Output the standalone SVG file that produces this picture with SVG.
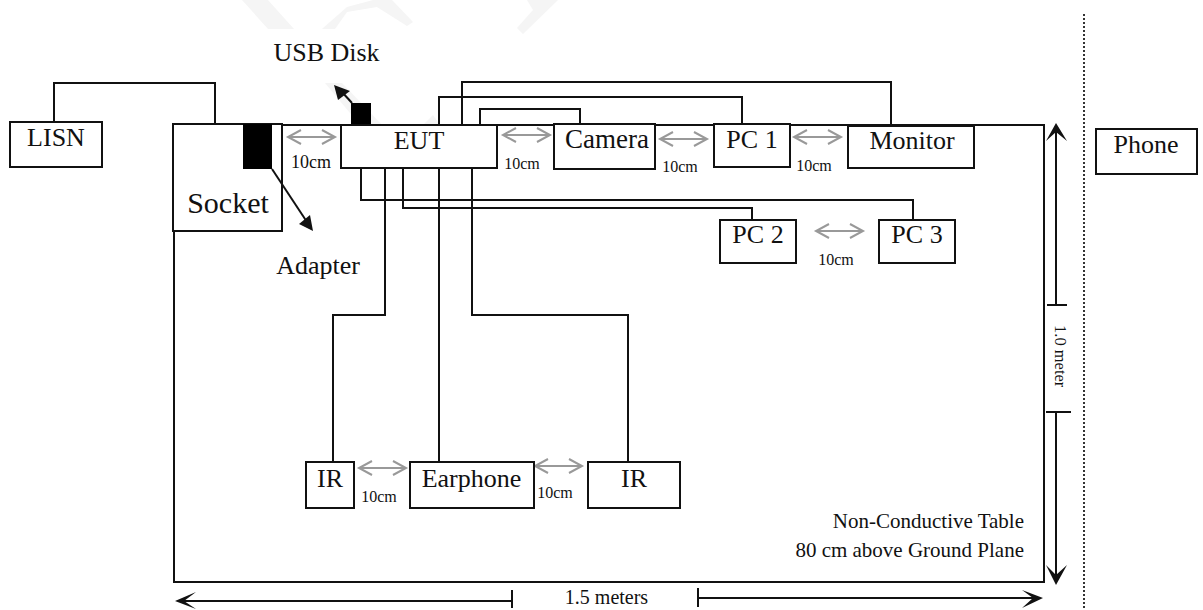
<svg xmlns="http://www.w3.org/2000/svg" width="1203" height="610" viewBox="0 0 1203 610">
<style>
.b{fill:#fff;stroke:#111;stroke-width:2}
.w{fill:none;stroke:#111;stroke-width:2}
.g{fill:none;stroke:#999;stroke-width:2}
.f{fill:#111}
.wm{fill:#f5f5f5}
text{font-family:"Liberation Serif","Times New Roman",serif;fill:#111}
.l{font-size:26px;text-anchor:middle}
.s{font-size:16px;text-anchor:middle}
</style>
<defs>
<path id="ga" class="g" d="M13 -7L0 0L13 7M0 0H47M34 -7L47 0L34 7"/>
</defs>
<rect width="1203" height="610" fill="#fff"/>
<g id="watermark">
<polygon class="wm" points="242,0 268,0 294,29 268,29"/>
<polygon class="wm" points="322,29 347,7 373,0 392,0 413,22 407,26 377,7 347,12 335,29"/>
<polygon class="wm" points="517,28 533,10 527,0 558,0 523,34"/>
<polygon class="wm" points="325,83 342,83 382,125 360,125"/>
<polygon class="wm" points="423,125 433,115 440,125"/>
</g>
<g id="table"><rect class="w" x="174" y="125" width="870" height="457"/></g>
<g id="divider"><line x1="1084" y1="14" x2="1084" y2="608" stroke="#333" stroke-width="2" stroke-dasharray="2 2"/></g>
<g id="connectors">
<path class="w" d="M54 122V83H215V124"/>
<path class="w" d="M462 125V82H891V125"/>
<path class="w" d="M439 125V97H742V124"/>
<path class="w" d="M480 125V109H580V125"/>
<path class="w" d="M361 168V200H913V221"/>
<path class="w" d="M403 168V208H752V221"/>
<path class="w" d="M385 166V315H333V462"/>
<path class="w" d="M439 166V462"/>
<path class="w" d="M472 166V315H628V462"/>
<use href="#ga" x="288" y="137"/>
<use href="#ga" x="503" y="135"/>
<use href="#ga" x="660" y="139"/>
<use href="#ga" x="794" y="137"/>
<use href="#ga" x="816" y="231"/>
<use href="#ga" x="359" y="468"/>
<use href="#ga" x="535" y="466"/>
<path class="w" d="M1056 305V130M1047 305h20"/>
<path class="f" d="M1056 123L1067 141L1056 132L1046 141Z"/>
<path class="w" d="M1046 412h25M1056 412V575"/>
<path class="f" d="M1056 585L1067 565L1056 575L1046 565Z"/>
<path class="w" d="M512 590V608M512 601H182"/>
<path class="f" d="M175 601L196 592L184 601L196 609Z"/>
<path class="w" d="M698 588V607M698 598H1034"/>
<path class="f" d="M1043 598L1022 590L1033 598L1022 608Z"/>
</g>
<g id="lisn"><rect class="b" x="10" y="122" width="92" height="45"/><text class="l" x="56" y="146">LISN</text></g>
<g id="socket"><rect class="b" x="173" y="124" width="109" height="107"/><text class="l" x="228" y="213" style="font-size:30px">Socket</text></g>
<g id="adapter"><rect x="243" y="124" width="29" height="45" fill="#000"/><path class="w" d="M272 169L307 222"/><polygon class="f" points="313,231 299,224 310,215"/><text class="l" x="318" y="274">Adapter</text></g>
<g id="usb"><rect x="351" y="103" width="20" height="22" fill="#000"/><path class="w" d="M352 103L342 92"/><polygon class="f" points="334,85 350,91 338,100"/><text class="l" x="326.500" y="61">USB Disk</text></g>
<g id="eut"><rect class="b" x="341" y="125" width="156" height="43"/><text class="l" x="419" y="149">EUT</text></g>
<g id="camera"><rect class="b" x="554" y="124" width="101" height="45"/><text class="l" x="607" y="148" style="font-size:27px">Camera</text></g>
<g id="pc1"><rect class="b" x="714" y="124" width="76" height="43"/><text class="l" x="752" y="148">PC 1</text></g>
<g id="monitor"><rect class="b" x="848" y="126" width="126" height="42"/><text class="l" x="912" y="149">Monitor</text></g>
<g id="phone"><rect class="b" x="1096" y="129" width="101" height="45"/><text class="l" x="1146" y="153">Phone</text></g>
<g id="pc2"><rect class="b" x="720" y="220" width="76" height="43"/><text class="l" x="758" y="243">PC 2</text></g>
<g id="pc3"><rect class="b" x="879" y="220" width="76" height="43"/><text class="l" x="917" y="243">PC 3</text></g>
<g id="ir1"><rect class="b" x="306" y="462" width="48" height="46"/><text class="l" x="330" y="487">IR</text></g>
<g id="earphone"><rect class="b" x="410" y="462" width="124" height="46"/><text class="l" x="471.500" y="487">Earphone</text></g>
<g id="ir2"><rect class="b" x="588" y="462" width="92" height="46"/><text class="l" x="634" y="487">IR</text></g>
<g id="labels">
<text class="s" x="311" y="168" style="font-size:18px">10cm</text>
<text class="s" x="522" y="169">10cm</text>
<text class="s" x="680" y="172">10cm</text>
<text class="s" x="814" y="171">10cm</text>
<text class="s" x="836" y="265">10cm</text>
<text class="s" x="379" y="502">10cm</text>
<text class="s" x="555" y="498">10cm</text>
<text class="s" x="606.500" y="604" style="font-size:20px">1.5 meters</text>
<text x="1024" y="528" text-anchor="end" style="font-size:21px">Non-Conductive Table</text>
<text x="1024" y="557" text-anchor="end" style="font-size:21px">80 cm above Ground Plane</text>
<text transform="translate(1055,325) rotate(90)" style="font-size:16.500px">1.0 meter</text>
</g>
</svg>
